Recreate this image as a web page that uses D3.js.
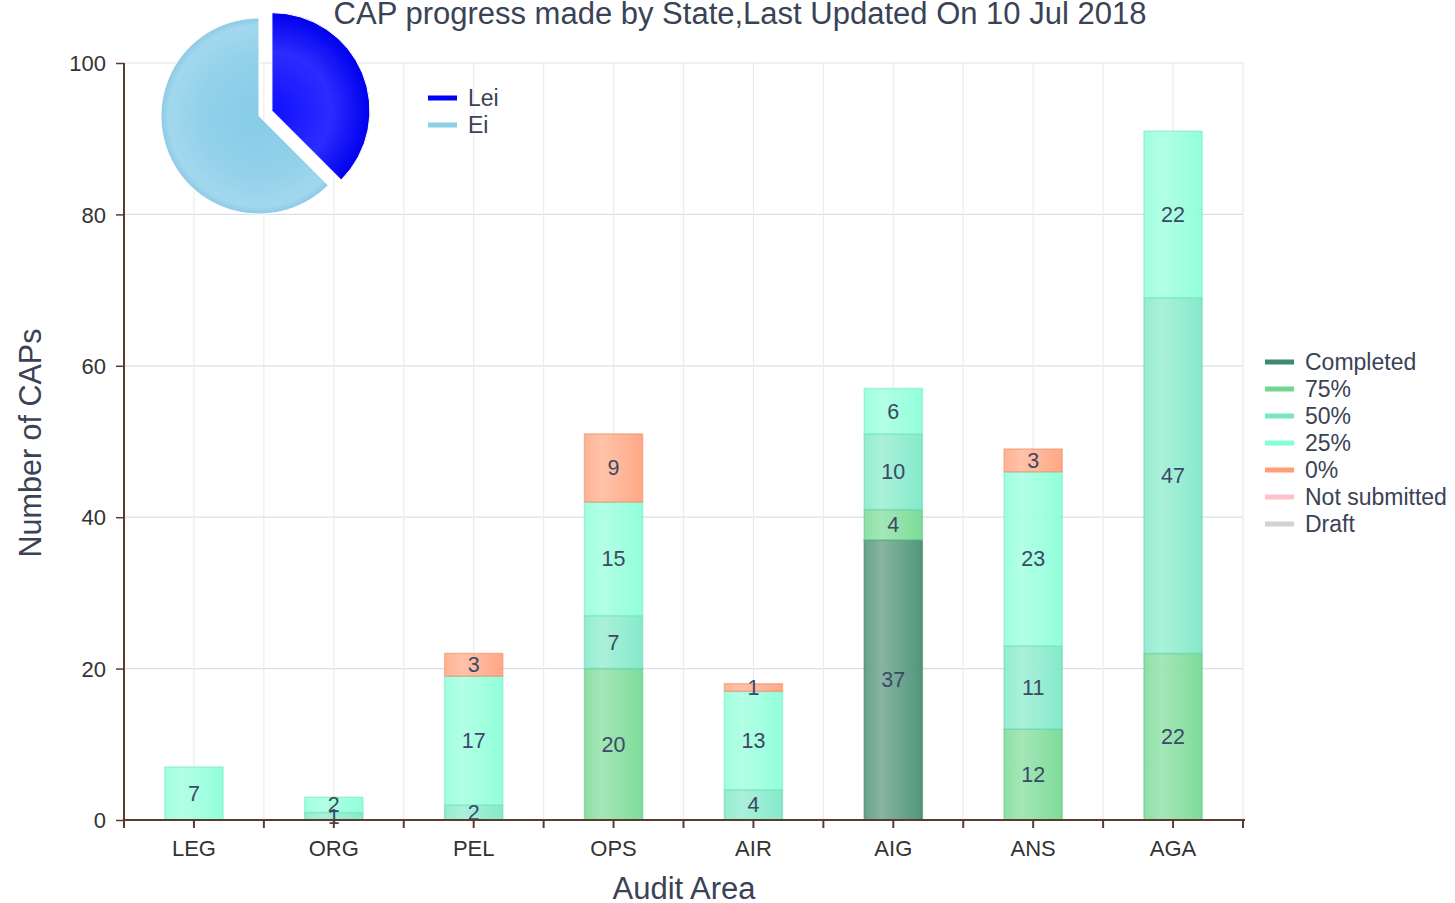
<!DOCTYPE html>
<html><head><meta charset="utf-8">
<script src="https://cdn.jsdelivr.net/npm/d3@7"></script>
<style>
body{margin:0;background:#fff;}
text{font-family:"Liberation Sans",Arial,sans-serif;}
</style></head>
<body><svg id="c" width="1455" height="903"></svg>
<script>
const categories = ["LEG","ORG","PEL","OPS","AIR","AIG","ANS","AGA"];
const seriesKeys = ["Completed","75%","50%","25%","0%","Not submitted","Draft"];
const completed   = [0,0,0,0,0,37,0,0];
const pct75       = [0,0,0,20,0,4,12,22];
const pct50       = [0,1,2,7,4,10,11,47];
const pct25       = [7,2,17,15,13,6,23,22];
const pct0        = [0,0,3,9,1,0,3,0];
const notSubmitted= [0,0,0,0,0,0,0,0];
const draft       = [0,0,0,0,0,0,0,0];
const seriesColors = ["#3f8a6d","#6fd88e","#78e8c4","#86ffd6","#ff9f78","#ffc0cb","#d3d3d3"];
const yTicks = [0,20,40,60,80,100];
const pieLabels = ["Lei","Ei"];
const pieValues = [37.5,62.5];
const pieColors = ["#0000ff","#8ecfe8"];

const svg = d3.select("#c");
const defs = svg.append("defs");
const X0=124, X1=1243, Y0=820, Y1=63;
const x = d3.scaleBand().domain(categories).range([X0,X1]).padding(0);
const y = d3.scaleLinear().domain([0,100]).range([Y0,Y1]);
const bw = x.bandwidth();
const barW = bw*0.415;
const txtC = "#3a4256";

// gridlines
const g = svg.append("g");
yTicks.filter(t=>t>0).forEach(t=>{
  g.append("line").attr("x1",X0).attr("x2",X1).attr("y1",y(t)).attr("y2",y(t))
   .attr("stroke","#d9e0ea").attr("stroke-width",1.2);
});
const vpos=[];
categories.forEach(c=>{vpos.push(x(c)); vpos.push(x(c)+bw/2);});
vpos.push(X1);
vpos.forEach(p=>{
  if(p>X0+1) g.append("line").attr("x1",p).attr("x2",p).attr("y1",Y1).attr("y2",Y0)
   .attr("stroke","#ececec").attr("stroke-width",1.2);
});

// data table
const table = categories.map((c,i)=>({cat:c,"Completed":completed[i],"75%":pct75[i],"50%":pct50[i],"25%":pct25[i],"0%":pct0[i],"Not submitted":notSubmitted[i],"Draft":draft[i]}));
const stack = d3.stack().keys(seriesKeys)(table);

function lighten(c,k){return d3.interpolateRgb(c,"#ffffff")(k);}
function darken(c,k){return d3.interpolateRgb(c,"#000000")(k);}
seriesColors.forEach((c,i)=>{
  const gr=defs.append("linearGradient").attr("id","bg"+i).attr("x1","0").attr("x2","1").attr("y1","0").attr("y2","0");
  gr.append("stop").attr("offset","0%").attr("stop-color",lighten(c,0.12));
  gr.append("stop").attr("offset","30%").attr("stop-color",lighten(c,0.3));
  gr.append("stop").attr("offset","100%").attr("stop-color",c);
});

const bars = svg.append("g");
stack.forEach((s,si)=>{
  s.forEach(d=>{
    const v=d[1]-d[0];
    if(v<=0) return;
    const cx=x(d.data.cat)+bw/2;
    bars.append("rect").attr("x",cx-barW/2).attr("width",barW)
      .attr("y",y(d[1])).attr("height",y(d[0])-y(d[1]))
      .attr("fill","url(#bg"+si+")").attr("fill-opacity",0.9)
      .attr("stroke",darken(seriesColors[si],0.08)).attr("stroke-opacity",0.6).attr("stroke-width",1.5);
  });
});
stack.forEach((s,si)=>{
  s.forEach(d=>{
    const v=d[1]-d[0];
    if(v<=0) return;
    const cx=x(d.data.cat)+bw/2;
    bars.append("text").attr("x",cx).attr("y",(y(d[0])+y(d[1]))/2+7.5)
      .attr("text-anchor","middle").attr("font-size",21.5).attr("fill","#3d4866").text(v);
  });
});

// axes
const axC="#5b3b2e";
const ay=svg.append("g").attr("transform",`translate(${X0},0)`)
 .call(d3.axisLeft(y).tickValues(yTicks).tickSize(8).tickPadding(10));
ay.select(".domain").attr("stroke",axC).attr("stroke-width",2).attr("d",`M0,${Y1}V${Y0}`);
ay.selectAll(".tick line").attr("stroke",axC).attr("stroke-width",1.5);
ay.selectAll(".tick text").attr("font-size",22).attr("fill","#333").attr("font-family","Liberation Sans,Arial").attr("dy","0.35em");

const ax=svg.append("g").attr("transform",`translate(0,${Y0})`)
 .call(d3.axisBottom(x).tickSize(0).tickPadding(20));
ax.select(".domain").attr("stroke",axC).attr("stroke-width",2).attr("d",`M${X0},0H${X1+2}`);
ax.selectAll(".tick text").attr("font-size",22).attr("fill","#333").attr("font-family","Liberation Sans,Arial");
vpos.forEach(p=>{
  svg.append("line").attr("x1",p).attr("x2",p).attr("y1",Y0).attr("y2",Y0+8).attr("stroke",axC).attr("stroke-width",2);
});
svg.append("line").attr("x1",X0).attr("x2",X0).attr("y1",Y0).attr("y2",Y0+8).attr("stroke",axC).attr("stroke-width",2);

// titles
svg.append("text").attr("x",740).attr("y",24).attr("text-anchor","middle").attr("font-size",31).attr("fill",txtC)
 .text("CAP progress made by State,Last Updated On 10 Jul 2018");
svg.append("text").attr("x",684).attr("y",899).attr("text-anchor","middle").attr("font-size",31).attr("fill",txtC).text("Audit Area");
svg.append("text").attr("transform","translate(41,443) rotate(-90)").attr("text-anchor","middle").attr("font-size",30.5).attr("fill",txtC).text("Number of CAPs");

// legend
const lg=svg.append("g");
seriesKeys.forEach((k,i)=>{
  const yy=362+i*27;
  lg.append("line").attr("x1",1265).attr("x2",1294).attr("y1",yy).attr("y2",yy).attr("stroke",seriesColors[i]).attr("stroke-width",5);
  lg.append("text").attr("x",1305).attr("y",yy+8).attr("font-size",23).attr("fill",txtC).text(k);
});

// pie
const pcx=259, pcy=116, R=98;
const pie=d3.pie().sort(null)(pieValues);
const arc=d3.arc().innerRadius(0).outerRadius(R);
const pg=svg.append("g");
pie.forEach((p,i)=>{
  const mid=(p.startAngle+p.endAngle)/2;
  const off=i===0?14:0;
  const dx=Math.sin(mid)*off, dy=-Math.cos(mid)*off;
  const gg=pg.append("g").attr("transform",`translate(${pcx+dx},${pcy+dy})`);
  const gid="pgu"+i;
  const rg=defs.append("radialGradient").attr("id",gid).attr("gradientUnits","userSpaceOnUse").attr("cx",0).attr("cy",0).attr("r",R);
  if(i===0){
    rg.append("stop").attr("offset","0%").attr("stop-color","#1010ff");
    rg.append("stop").attr("offset","60%").attr("stop-color","#2c2cff");
    rg.append("stop").attr("offset","100%").attr("stop-color","#0000ee");
  } else {
    rg.append("stop").attr("offset","0%").attr("stop-color","#88cce7");
    rg.append("stop").attr("offset","60%").attr("stop-color","#92d1ea");
    rg.append("stop").attr("offset","92%").attr("stop-color","#a2d8ee");
    rg.append("stop").attr("offset","100%").attr("stop-color","#8ccae5");
  }
  gg.append("path").attr("d",arc(p)).attr("fill","url(#"+gid+")").attr("stroke","#fff").attr("stroke-width",1);
});
pieLabels.forEach((l,i)=>{
  const yy=98+i*27;
  svg.append("line").attr("x1",428).attr("x2",457).attr("y1",yy).attr("y2",yy).attr("stroke",pieColors[i]).attr("stroke-width",5);
  svg.append("text").attr("x",468).attr("y",yy+8).attr("font-size",23).attr("fill",txtC).text(l);
});
</script></body></html>
